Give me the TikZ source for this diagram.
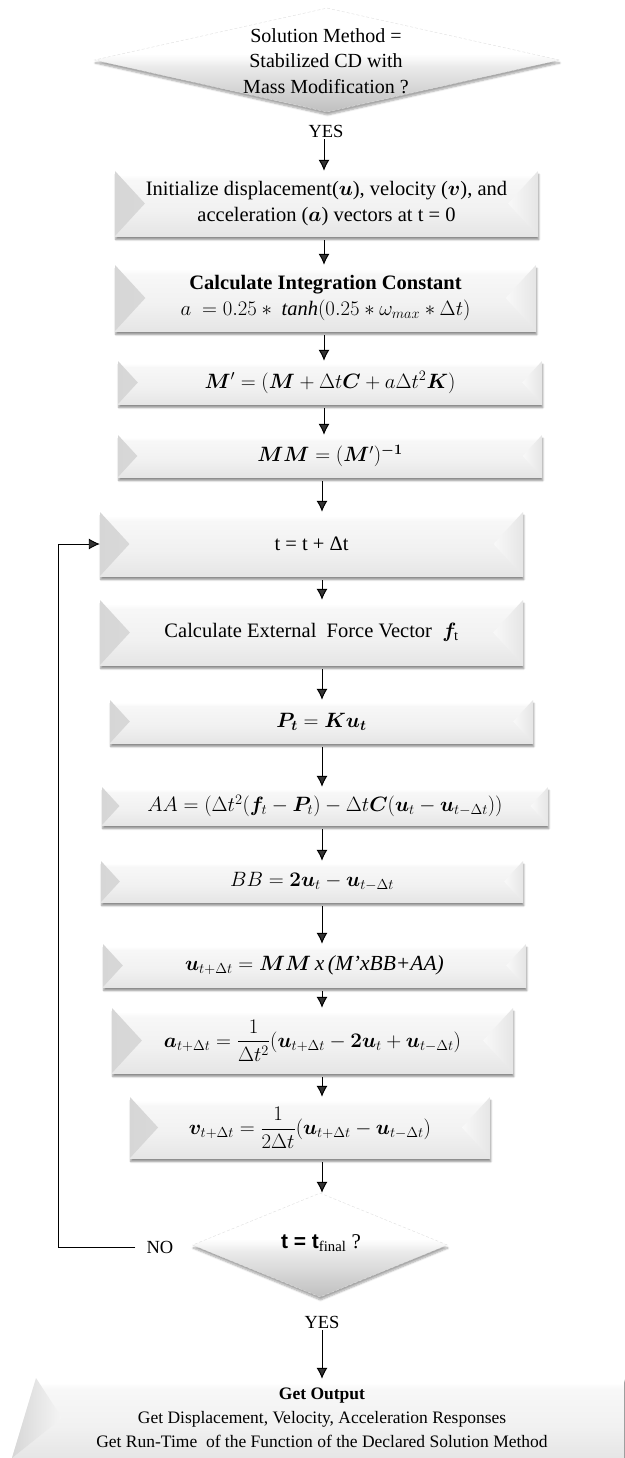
\documentclass[tikz,border=0pt]{standalone}
\usepackage{fontspec}
\setmainfont{Liberation Serif}
\newfontfamily\sansb{Liberation Sans}
\usepackage{amsmath}
\usepackage{bm}
\usetikzlibrary{shapes.geometric,arrows.meta,shadows.blur,calc}
\pgfdeclareverticalshading{boxshade}{100bp}{color(0bp)=(gray!20); color(25bp)=(gray!20); color(45bp)=(gray!11); color(68bp)=(gray!6); color(72bp)=(white); color(100bp)=(white)}
\pgfdeclareverticalshading{diashade}{100bp}{color(0bp)=(gray!50); color(25bp)=(gray!50); color(47bp)=(gray!16); color(50bp)=(gray!7); color(53bp)=(white); color(100bp)=(white)}
\tikzset{
  bevelbox/.style={rectangle, inner sep=2pt, align=center, shading=boxshade,
    blur shadow={shadow xshift=0.8pt, shadow yshift=-3.5pt, shadow blur steps=6, shadow opacity=45},
    path picture={
      \shade[left color=gray!32, right color=gray!9]
        let \p1=(path picture bounding box.north west), \p2=(path picture bounding box.south east) in
        (\x1,\y1) -- ({\x1+0.46*(\y1-\y2)},{0.5*(\y1+\y2)}) -- (\x1,\y2) -- cycle;
      \shade[right color=gray!20, left color=gray!5]
        let \p1=(path picture bounding box.north west), \p2=(path picture bounding box.south east) in
        (\x2,\y1) -- ({\x2-0.46*(\y1-\y2)},{0.5*(\y1+\y2)}) -- (\x2,\y2) -- cycle;
    }},
  mathbox/.style={bevelbox, font=\fontsize{21.5}{26}\selectfont},
  decision/.style={diamond, inner sep=0pt, shading=diashade, draw=gray!25, densely dashed, line width=0.4pt,
    blur shadow={shadow xshift=0.5pt, shadow yshift=-3pt, shadow blur steps=6, shadow opacity=35}},
  lbl/.style={inner sep=1pt, font=\fontsize{18.5}{20}\selectfont},
  txt/.style={align=center, inner sep=0pt},
  arr/.style={-{Latex[length=11pt,width=11pt]}, line width=1pt, shorten <=4pt},
}
\begin{document}
\begin{tikzpicture}[x=1pt,y=-1pt, every node/.append style={font=\fontsize{20.5}{26}\selectfont}]
\useasboundingbox (0,0) rectangle (624,1458);
\coordinate (col) at (324,0);
\coordinate (col2) at (322,0);

% top decision
\node[decision, minimum width=465pt, minimum height=104pt] (d1) at (327,60) {};
\node[txt, font=\fontsize{20}{25.5}\selectfont] (d1t) at (326,61) {Solution Method =\\ Stabilized CD with\\ Mass Modification ?};
\node[lbl] (yes1) at (326,131) {YES};

\node[bevelbox, minimum width=423pt, minimum height=65pt] (init) at (326.5,203.5)
  {Initialize displacement($\bm{u}$), velocity ($\bm{v}$), and\\ acceleration ($\bm{a}$) vectors at t = 0};
\node[bevelbox, minimum width=421pt, minimum height=66pt] (calc) at (325.5,298)
  {\textbf{Calculate Integration Constant}\\ $a\ = 0.25 \ast\ \mathit{tanh}(0.25\ast\omega_{max}\ast\Delta t)$};
\node[mathbox, minimum width=424pt, minimum height=43pt] (mp) at (330,382.5)
  {$\bm{M}' = (\bm{M} + \Delta t\bm{C} + a\Delta t^{2}\bm{K})$};
\node[mathbox, minimum width=424pt, minimum height=42pt] (mm) at (330,456)
  {$\bm{MM} = (\bm{M}')^{\bm{-1}}$};
\node[bevelbox, minimum width=423pt, minimum height=64pt] (tt) at (311.5,544)
  {t = t + Δt};
\node[bevelbox, minimum width=423pt, minimum height=65pt] (ext) at (311.5,632.5)
  {Calculate External \ Force Vector \ $\bm{f}_{\mathrm{t}}$};
\node[mathbox, minimum width=423pt, minimum height=43pt] (pt) at (321.5,721.5)
  {$\bm{P}_{\bm{t}} = \bm{K}\bm{u}_{\bm{t}}$};
\node[mathbox, minimum width=446pt, minimum height=38pt] (aa) at (325,806)
  {$AA = (\Delta t^{2}(\bm{f}_{t} - \bm{P}_{t}) - \Delta t\bm{C}(\bm{u}_{t} - \bm{u}_{t-\Delta t}))$};
\node[mathbox, minimum width=422pt, minimum height=41pt] (bb) at (312,881.5)
  {$BB = \bm{2u}_{t} - \bm{u}_{t-\Delta t}$};
\node[mathbox, minimum width=423pt, minimum height=43pt] (ut) at (314.5,965.5)
  {$\bm{u}_{t+\Delta t} = \bm{MM}$\,\textit{x}\,\textit{(M'xBB+AA)}};
\node[mathbox, minimum width=401pt, minimum height=65pt] (at) at (312.5,1040.5)
  {$\bm{a}_{t+\Delta t} = \dfrac{1}{\Delta t^{2}}(\bm{u}_{t+\Delta t} - \bm{2u}_{t} + \bm{u}_{t-\Delta t})$};
\node[mathbox, minimum width=360pt, minimum height=61pt] (vt) at (310,1127.5)
  {$\bm{v}_{t+\Delta t} = \dfrac{1}{2\Delta t}(\bm{u}_{t+\Delta t} - \bm{u}_{t-\Delta t})$};

% bottom decision
\node[decision, minimum width=255pt, minimum height=104pt] (d2) at (320,1245) {};
\node[txt, font=\fontsize{21}{26}\selectfont] (d2t) at (321,1243) {{\sansb\bfseries t = t}\textsubscript{final} ?};
\node[lbl] (no) at (160,1247) {NO};
\node[lbl] (yes2) at (322,1322) {YES};

% output box
\coordinate (o1) at (36,1378);
\coordinate (o2) at (624,1378);
\coordinate (o3) at (624,1458);
\coordinate (o4) at (12,1458);
\shade[shading=boxshade, blur shadow={shadow yshift=-3pt, shadow opacity=40}] (o1) -- (o2) -- (o3) -- (o4) -- cycle;
\shade[left color=gray!32, right color=gray!8] (o1) -- (62,1418) -- (o4) -- cycle;
\node[txt, font=\fontsize{17.5}{24}\selectfont, minimum width=586pt, minimum height=78pt] (out) at (322,1418)
  {\textbf{Get Output}\\ Get Displacement, Velocity, Acceleration Responses\\ Get Run-Time\ \ of the Function of the Declared Solution Method};

% connectors
\draw[arr, shorten <=1pt] (yes1.south -| col) -- (init.north -| col);
\draw[arr] (init.south -| col) -- (calc.north -| col);
\draw[arr] (calc.south -| col) -- (mp.north -| col);
\draw[arr] (mp.south -| col) -- (mm.north -| col);
\draw[arr] (mm.south -| col2) -- (tt.north -| col2);
\draw[arr] (tt.south -| col2) -- (ext.north -| col2);
\draw[arr] (ext.south -| col2) -- (pt.north -| col2);
\draw[arr] (pt.south -| col2) -- (aa.north -| col2);
\draw[arr] (aa.south -| col2) -- (bb.north -| col2);
\draw[arr] (bb.south -| col2) -- (ut.north -| col2);
\draw[arr] (ut.south -| col2) -- (at.north -| col2);
\draw[arr] (at.south -| col2) -- (vt.north -| col2);
\draw[arr] (vt.south -| col2) -- (d2.north -| col2);
\draw[arr, shorten <=1pt] (yes2.south -| col2) -- (out.north -| col2);
\coordinate (loop) at (58,1247);
\draw[-{Latex[length=11pt,width=11pt]}, line width=0.9pt] (no.west) ++(-10,0) -- (loop) |- (tt.west);
\end{tikzpicture}
\end{document}
